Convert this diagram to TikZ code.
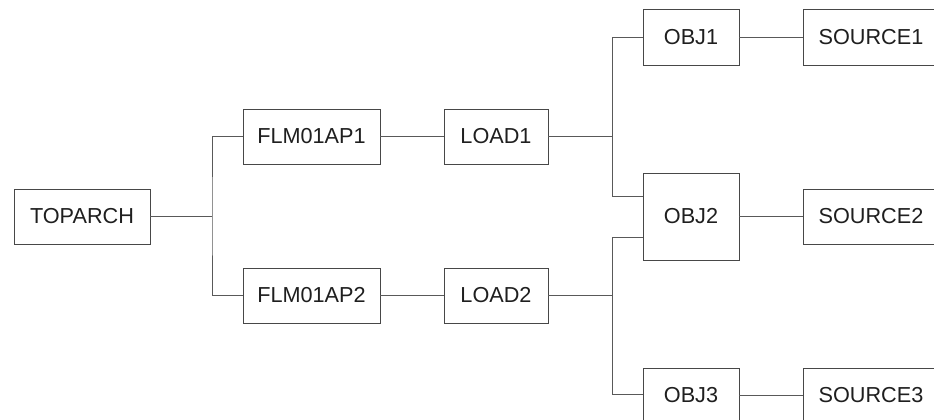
\documentclass[tikz,border=0pt]{standalone}
\usepackage{fontspec}
\setmainfont{Liberation Sans}
\usetikzlibrary{calc}
\begin{document}
\begin{tikzpicture}[x=0.03cm,y=-0.03cm,
  every node/.style={font=\fontsize{18.5}{20}\selectfont, text=black!88},
  box/.style={draw=black!72, line width=0.8pt, fill=white, inner sep=0pt, minimum height=1.65cm},
  wide/.style={box, minimum width=4.08cm},
  mid/.style={box, minimum width=3.12cm},
  narrow/.style={box, minimum width=2.88cm},
  link/.style={draw=black!65, line width=0.8pt}]
\useasboundingbox (0,0) rectangle (934,419);
\clip (0,0) rectangle (934,419);
\fill[white] (0,0) rectangle (934,419);
% nodes
\node[wide] (top) at (82,216.5) {TOPARCH};
\node[wide, minimum width=4.11cm] (f1) at (311.5,136.5) {FLM01AP1};
\node[mid] (l1) at (496,136.5) {LOAD1};
\node[wide, minimum width=4.11cm] (f2) at (311.5,295.5) {FLM01AP2};
\node[mid] (l2) at (496,295.5) {LOAD2};
\node[narrow, minimum height=1.68cm] (o1) at (691,37) {OBJ1};
\node[wide, minimum height=1.68cm] (s1) at (871,37) {SOURCE1};
\node[narrow, minimum height=2.61cm] (o2) at (691,216.5) {OBJ2};
\node[wide] (s2) at (871,216.5) {SOURCE2};
\node[narrow] (o3) at (691,395.5) {OBJ3};
\node[wide] (s3) at (871,395.5) {SOURCE3};
% junctions
\coordinate (j1) at (212,216.5);
\coordinate (j2) at (612.5,136.5);
\coordinate (j3) at (612.5,295.5);
% connectors
\draw[link] (top.east) -- (j1);
\draw[link] (f1.west) -| (j1) |- (f2.west);
\draw[link] (f1.east) -- (l1.west);
\draw[link] (f2.east) -- (l2.west);
\draw[link] (l1.east) -- (j2);
\draw[link] (l2.east) -- (j3);
\draw[link] (o1.west) -| (j2) |- ([yshift=0.615cm]o2.west);
\draw[link] ([yshift=-0.615cm]o2.west) -| (j3) |- ([yshift=0.045cm]o3.west);
\draw[link] (o1.east) -- (s1.west);
\draw[link] (o2.east) -- (s2.west);
\draw[link] (o3.east) -- (s3.west);
\end{tikzpicture}
\end{document}
